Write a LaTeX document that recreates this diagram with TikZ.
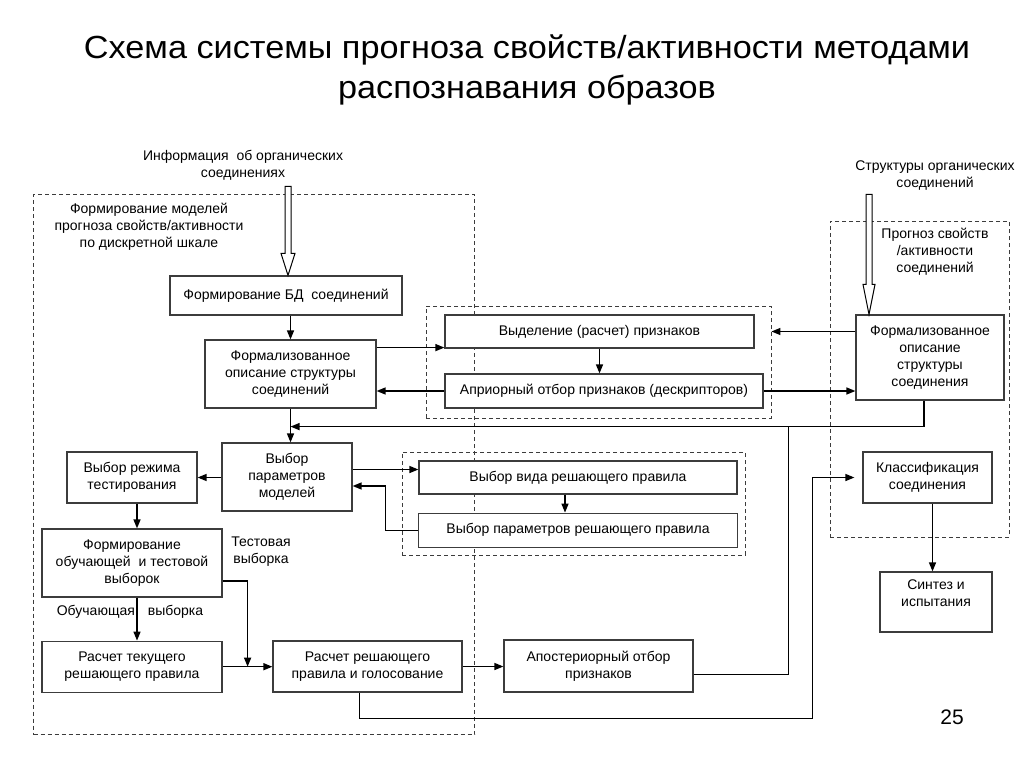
\documentclass[tikz,border=0pt]{standalone}
\usepackage{fontspec}
\setmainfont{Liberation Sans}
\newfontfamily\titlefont[FakeStretch=1.07]{Liberation Sans}
\usepackage{tikz}
\usetikzlibrary{positioning}
\usetikzlibrary{arrows.meta}
\usetikzlibrary{calc}
\definecolor{boxgray}{RGB}{60,60,60}
\tikzset{block/.style={rectangle,draw=boxgray,line width=1.2pt,fill=white,align=center,inner sep=2pt,
                       font=\fontsize{14}{17}\selectfont},
         region/.style={rectangle,draw=boxgray,line width=0.9pt,dash pattern=on 4pt off 3pt,inner sep=0pt},
         lbl/.style={align=center,font=\fontsize{14}{17}\selectfont},
         arr/.style={-{Triangle[length=9pt,width=7pt]},line width=1.4pt},
         plain/.style={line width=1pt},
         hollow/.style={draw=black,line width=1pt,fill=white},}

\begin{document}
\begin{tikzpicture}[x=1pt,y=-1pt,>=Triangle]
	\useasboundingbox[fill=white] (0,0) rectangle (1024,767);

	% title
	\node[font=\titlefont\fontsize{32}{40}\selectfont,align=center] (title) at (527,70)
	  {Схема системы прогноза свойств/активности методами\\распознавания образов};

	% dashed regions
	\node[region,minimum width=441pt,minimum height=540pt] (leftreg) at (254,464.5) {};
	\node[region,minimum width=345pt,minimum height=112pt] (midtop) at (598.5,362) {};
	\node[region,minimum width=343pt,minimum height=103pt] (midbot) at (573.5,503.5) {};
	\node[region,minimum width=179pt,minimum height=316pt] (rightreg) at (919.5,379) {};

	% texts
	\node[lbl] (info) at (243,165) {Информация\ \ об органических\\соединениях};
	\node[lbl] (struct) at (935,176) {Структуры органических\\соединений};
	\node[lbl] (leftlbl) at (149,227) {Формирование моделей\\прогноза свойств/активности\\по дискретной шкале};
	\node[lbl] (rightlbl) at (935,252) {Прогноз свойств\\/активности\\соединений};
	\node[lbl] (testlbl) at (261,552) {Тестовая\\выборка};
	\node[lbl] (obuchlbl) at (130,612) {Обучающая\hspace{13pt}выборка};
	\node[font=\fontsize{21}{24}\selectfont] (page) at (952,717) {25};

	% blocks
	\node[block,minimum width=232pt,minimum height=39pt] (bd) at (286,295.5) {Формирование БД\ \ соединений};
	\node[block,minimum width=171pt,minimum height=68pt] (formL) at (290.5,374) {Формализованное\\описание структуры\\соединений};
	\node[block,minimum width=309pt,minimum height=33pt] (vydel) at (599.5,331.5) {Выделение (расчет) признаков};
	\node[block,minimum width=318pt,minimum height=34pt] (apr) at (604,391) {Априорный отбор признаков (дескрипторов)};
	\node[block,minimum width=148pt,minimum height=85pt] (formR) at (930,357.5) {Формализованное\\описание\\структуры\\соединения};
	\node[block,minimum width=130pt,minimum height=68pt] (vybpar) at (287,477) {Выбор\\параметров\\моделей};
	\node[block,minimum width=130pt,minimum height=51pt] (rezhim) at (132,477.5) {Выбор режима\\тестирования};
	\node[block,minimum width=318pt,minimum height=33pt] (vybvid) at (578,477.5) {Выбор вида решающего правила};
	\node[block,minimum width=319pt,minimum height=34pt] (vybpr) [below=18pt of vybvid] {Выбор параметров решающего правила};
	\node[block,minimum width=180pt,minimum height=68pt] (formvyb) at (132,563) {Формирование\\обучающей\ \ и тестовой\\выборок};
	\node[block,minimum width=180pt,minimum height=51pt] (raschtek) [below=43pt of formvyb] {Расчет текущего\\решающего правила};
	\node[block,minimum width=189pt,minimum height=51pt] (raschresh) at (367.5,666.5) {Расчет решающего\\правила и голосование};
	\node[block,minimum width=189pt,minimum height=52pt] (aposter) at (598.5,666) {Апостериорный отбор\\признаков};
	\node[block,minimum width=129pt,minimum height=51pt] (klass) at (927.5,477.5) {Классификация\\соединения};
	\node[block,minimum width=112pt,minimum height=60pt] (sintez) at (936,602) {Синтез и\\испытания\\ };

	% hollow input arrows
	\draw[hollow] ($(bd.north)+(2,0)$) -- ++(-7,-22) -- ++(4,0) -- ++(0,-67) -- ++(6,0) -- ++(0,67) -- ++(4,0) -- cycle;
	\draw[hollow] ($(formR.north)+(-61,0)$) -- ++(-6,-30) -- ++(3,0) -- ++(0,-90) -- ++(6,0) -- ++(0,90) -- ++(3,0) -- cycle;

	% helper points
	\coordinate (fb) at ($(formL.south)+(0,18)$);
	\coordinate (vdin) at ($(vydel.south west)+(0,-1)$);
	\coordinate (rdown) at ($(formR.south)+(-6,0)$);
	\coordinate (aout) at ($(aposter.east)+(0,8)$);
	\coordinate (ajoin) at ($(fb)+(498,0)$);
	\coordinate (vvin) at ($(vybvid.west)+(0,-8)$);
	\coordinate (vvdown) at ($(vybvid.south)+(-13,0)$);
	\coordinate (vpturn) at ($(vybpar.east)+(33,9)$);
	\coordinate (vpin) at ($(vybpar.east)+(0,9)$);
	\coordinate (rzdown) at ($(rezhim.south)+(5,0)$);
	\coordinate (fvdown) at ($(formvyb.south)+(5,0)$);
	\coordinate (fvtest) at ($(formvyb.east)+(0,18)$);
	\coordinate (testin) at ($(raschtek.east)+(25,0)$);
	\coordinate (rrdown) at ($(raschresh.south)+(-8,26)$);
	\coordinate (kturn) at ($(klass.west)+(-50,0)$);
	\coordinate (kin) at ($(klass.west)+(-8,0)$);
	\coordinate (kdown) at ($(klass.south)+(5,0)$);

	% connectors
	\draw[arr] (bd.south -| formL.north) -- (formL.north);
	\draw[arr] (formL.east |- vdin) -- (vdin);
	\draw[arr] (vydel.south) -- (vydel.south |- apr.north);
	\draw[arr] (apr.west) -- (apr.west -| formL.east);
	\draw[arr] (formR.west |- vydel.east) -- (vydel.east -| midtop.east);
	\draw[arr] (apr.east) -- (apr.east -| formR.west);
	\draw[arr] (formL.south) -- (formL.south |- vybpar.north);
	\draw[arr] (rdown) |- (fb);
	\draw[plain] (aout) -| (ajoin);
	\draw[arr] (vybpar.west |- rezhim.east) -- (rezhim.east);
	\draw[arr] (vybpar.east |- vvin) -- (vvin);
	\draw[arr] (vvdown) -- (vvdown |- vybpr.north);
	\draw[plain] (vybpr.west) -| (vpturn);
	\draw[arr] (vpturn) -- (vpin);
	\draw[arr] (rzdown) -- (rzdown |- formvyb.north);
	\draw[arr] (fvdown) -- (fvdown |- raschtek.north);
	\draw[arr] (fvtest) -| (testin);
	\draw[arr] (raschtek.east) -- (raschtek.east -| raschresh.west);
	\draw[arr] (raschresh.east) -- (raschresh.east -| aposter.west);
	\draw[plain] (raschresh.south -| rrdown) -- (rrdown) -| (kturn);
	\draw[arr] (kturn) -- (kin);
	\draw[arr] (kdown) -- (kdown |- sintez.north);
\end{tikzpicture}
\end{document}
